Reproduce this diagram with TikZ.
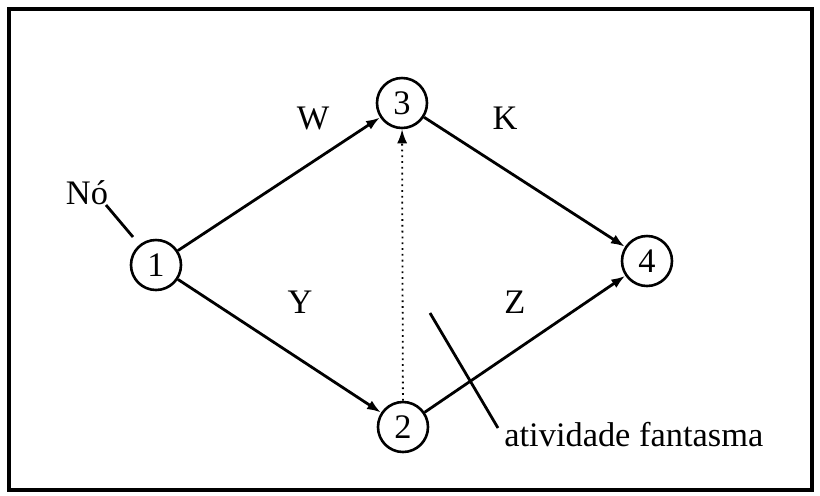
\documentclass[tikz,border=0pt]{standalone}
\usepackage{fontspec}
\setmainfont{Liberation Serif}
\usetikzlibrary{arrows.meta}
\begin{document}
\begin{tikzpicture}[x=0.5pt,y=-0.5pt,
  every node/.style={font=\fontsize{17.2}{19}\selectfont},
  evnode/.style={circle,draw,line width=1.3pt,minimum size=25pt,inner sep=0pt},
  act/.style={line width=1.4pt,-{Latex[length=7pt,width=5pt]}},
  ghost/.style={line width=0.9pt,dotted,-{Latex[length=7pt,width=5pt]}},
  pointer/.style={line width=1.4pt},
  lbl/.style={inner sep=0pt}]
\useasboundingbox (0,0) rectangle (820,495);
\draw[line width=1.8pt] (9,9) rectangle (812,490);
\node[evnode] (n1) at (156,265) {1};
\node[evnode] (n3) at (402,103) {3};
\node[evnode] (n2) at (403,427) {2};
\node[evnode] (n4) at (647,261) {4};
\draw[act] (n1) -- (n3);
\draw[act] (n1) -- (n2);
\draw[act] (n3) -- (n4);
\draw[act] (n2) -- (n4);
\draw[ghost] (n2) -- (n3);
\node[lbl] (w) at (313,118) {W};
\node[lbl] (k) at (505,118) {K};
\node[lbl] (y) at (300,302) {Y};
\node[lbl] (z) at (515,302) {Z};
\node[lbl] (no) at (87,193) {Nó};
\node[lbl,anchor=base west] (fan) at (504,446) {atividade fantasma};
\coordinate (noA) at (106,205);
\coordinate (noB) at (133,237);
\draw[pointer] (noA) -- (noB);
\coordinate (faA) at (430,313);
\coordinate (faB) at (498,428);
\draw[pointer] (faA) -- (faB);
\end{tikzpicture}
\end{document}
